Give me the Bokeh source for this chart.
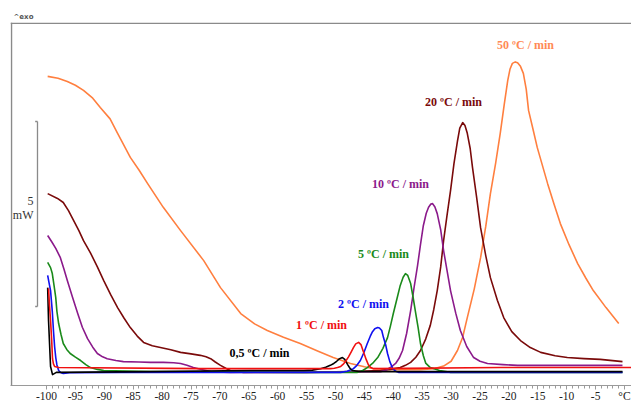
from bokeh.plotting import figure
from bokeh.models import FixedTicker, Span
from bokeh.core.properties import value
from bokeh.embed import file_html
from bokeh.resources import INLINE

# ---- data (temperature in °C, heat flow in mW, exo up) ----
t_50 = [-99.8, -98.0, -96.4, -95.0, -93.6, -92.0, -90.7, -89.0, -87.7, -85.5, -84.0, -82.5, -79.8, -76.8,
        -72.8, -69.9, -66.4, -64.0, -61.8, -59.0, -56.1, -53.0, -50.4, -47.4, -45.0, -43.4, -41.0, -38.8,
        -35.3, -33.0, -31.3, -30.0, -28.9, -28.0, -27.2, -26.0, -24.9, -24.0, -23.2, -22.3, -21.5, -20.8,
        -20.2, -19.8, -19.4, -18.9, -18.5, -18.0, -17.5, -17.0, -16.6, -15.8, -15.1, -13.3, -12.2, -11.1,
        -9.6, -8.1, -6.7, -5.4, -3.2, -1.0]
q_50 = [7.95, 7.90, 7.81, 7.71, 7.57, 7.36, 7.11, 6.80, 6.41, 5.76, 5.42, 5.05, 4.41, 3.78,
        2.97, 2.24, 1.54, 1.26, 1.08, 0.90, 0.73, 0.52, 0.35, 0.19, 0.10, 0.05, 0.03, 0.02,
        0.02, 0.05, 0.12, 0.25, 0.54, 0.90, 1.43, 2.20, 3.05, 3.90, 4.78, 5.60, 6.41, 7.20,
        7.84, 8.15, 8.30, 8.34, 8.32, 8.22, 8.03, 7.60, 7.03, 6.50, 6.03, 5.05, 4.50, 3.97,
        3.40, 2.89, 2.50, 2.16, 1.70, 1.27]

t_20 = [-99.8, -98.1, -97.1, -96.2, -95.3, -94.4, -93.6, -92.4, -91.2, -90.1, -88.9, -87.7, -86.6, -85.5,
        -84.3, -83.2, -81.7, -80.3, -78.5, -76.8, -75.0, -73.4, -72.4, -71.6, -70.8, -69.9, -69.0, -68.2,
        -67.0, -65.9, -55.0, -47.4, -42.2, -40.5, -38.8, -37.9, -37.0, -36.1, -35.3, -34.4, -33.6, -33.0,
        -32.4, -31.8, -31.3, -30.7, -30.1, -29.5, -28.9, -28.5, -28.0, -27.6, -27.2, -26.7, -26.3, -25.6,
        -24.9, -24.0, -23.2, -22.0, -20.9, -19.5, -18.0, -16.3, -14.5, -12.0, -9.9, -7.0, -4.2, -0.35]
q_20 = [4.78, 4.65, 4.54, 4.32, 4.05, 3.78, 3.51, 3.18, 2.80, 2.43, 2.05, 1.70, 1.42, 1.16,
        0.93, 0.76, 0.67, 0.62, 0.56, 0.49, 0.45, 0.41, 0.37, 0.32, 0.23, 0.14, 0.06, 0.0,
        -0.03, -0.05, -0.05, -0.03, 0.0, 0.03, 0.08, 0.14, 0.22, 0.36, 0.54, 0.85, 1.22, 1.65,
        2.16, 2.80, 3.51, 4.20, 4.86, 5.60, 6.20, 6.55, 6.70, 6.62, 6.41, 6.00, 5.49, 4.70,
        3.86, 3.10, 2.51, 1.90, 1.43, 1.05, 0.81, 0.62, 0.49, 0.40, 0.35, 0.32, 0.30, 0.24]

t_10 = [-99.8, -99.1, -98.4, -97.6, -97.0, -96.4, -95.5, -94.6, -93.8, -92.9, -92.0, -91.2, -90.3, -89.5,
        -88.0, -86.7, -84.0, -82.0, -79.8, -78.0, -76.8, -75.7, -74.6, -73.0, -71.6, -68.2, -55.0, -42.2,
        -41.4, -40.5, -39.6, -39.0, -38.4, -37.7, -37.0, -36.4, -35.8, -35.3, -34.8, -34.3, -33.9, -33.5,
        -33.2, -32.8, -32.4, -31.8, -31.3, -30.7, -30.1, -29.2, -28.4, -27.3, -26.1, -25.0, -23.7, -21.0,
        -18.5, -0.35]
q_10 = [3.65, 3.48, 3.30, 3.05, 2.75, 2.43, 1.98, 1.54, 1.17, 0.86, 0.63, 0.46, 0.37, 0.32,
        0.27, 0.24, 0.23, 0.22, 0.22, 0.21, 0.19, 0.14, 0.08, 0.02, -0.03, -0.05, -0.04, -0.03,
        0.0, 0.08, 0.19, 0.33, 0.54, 1.00, 1.62, 2.25, 2.84, 3.40, 3.92, 4.25, 4.41, 4.50,
        4.51, 4.42, 4.24, 3.80, 3.24, 2.70, 2.16, 1.55, 1.08, 0.65, 0.35, 0.25, 0.19, 0.16,
        0.14, 0.14]

t_5 = [-99.8, -99.3, -99.0, -98.7, -98.4, -98.2, -97.9, -97.5, -97.1, -96.5, -95.9, -95.0, -94.1, -93.2,
       -92.4, -91.2, -90.1, -82.0, -56.1, -46.2, -45.3, -44.5, -43.6, -42.7, -41.8, -41.0, -40.5, -40.0,
       -39.4, -38.8, -38.3, -37.9, -37.5, -37.0, -36.6, -36.2, -35.7, -35.3, -34.8, -34.4, -33.6, -32.0,
       -30.1, -0.35]
q_5 = [2.92, 2.78, 2.62, 2.30, 1.97, 1.60, 1.27, 0.98, 0.73, 0.57, 0.46, 0.36, 0.27, 0.16,
       0.08, 0.03, 0.0, -0.03, -0.05, -0.05, 0.0, 0.08, 0.19, 0.35, 0.60, 0.89, 1.20, 1.54,
       1.92, 2.30, 2.52, 2.62, 2.57, 2.35, 2.00, 1.62, 1.15, 0.73, 0.40, 0.20, 0.08, 0.0,
       -0.05, -0.05]

t_2 = [-99.8, -99.6, -99.3, -99.0, -98.8, -98.6, -98.4, -98.2, -97.9, -97.5, -97.1, -96.0, -87.2, -49.1,
       -48.0, -46.9, -46.3, -45.7, -45.1, -44.5, -44.0, -43.6, -43.2, -42.7, -42.4, -42.0, -41.7, -41.3,
       -41.0, -40.6, -40.1, -39.6, -39.1, -0.35]
q_2 = [2.57, 2.40, 2.16, 1.60, 1.08, 0.65, 0.35, 0.15, 0.0, -0.06, -0.08, -0.06, -0.05, -0.05,
       -0.02, 0.05, 0.14, 0.27, 0.48, 0.73, 0.92, 1.05, 1.13, 1.16, 1.15, 1.08, 0.89, 0.68,
       0.46, 0.24, 0.05, -0.02, -0.05, -0.05]

t_1 = [-99.65, -99.5, -99.3, -99.1, -98.96, -98.8, -98.6, -97.9, -73.4, -50.9, -50.2, -49.65, -49.1,
       -48.6, -48.2, -47.75, -47.3, -46.9, -46.5, -46.0, -45.6, -45.2, -44.7, -44.3, -43.9, -43.4, -21.5, 1.5]
q_1 = [2.22, 1.80, 1.35, 0.80, 0.32, 0.18, 0.11, 0.08, 0.05, 0.05, 0.06, 0.08, 0.11,
       0.18, 0.26, 0.37, 0.50, 0.62, 0.72, 0.76, 0.70, 0.52, 0.30, 0.15, 0.08, 0.05, 0.08, 0.08]

t_05 = [-99.8, -99.65, -99.3, -98.96, -98.3, -82.0, -64.7, -55.5, -54.0, -52.6, -51.7, -50.9, -50.3,
        -49.8, -49.3, -48.8, -48.4, -47.9, -47.5, -47.1, -45.7, -0.35]
q_05 = [2.24, 1.35, 0.11, -0.11, -0.05, -0.03, 0.0, 0.0, 0.01, 0.05, 0.09, 0.14, 0.19,
        0.25, 0.32, 0.35, 0.30, 0.16, 0.06, 0.0, -0.03, -0.03]

series_labels = ["50 ºC / min", "20 ºC / min", "10 ºC / min", "5 ºC / min",
                 "2 ºC / min", "1 ºC / min", "0,5 ºC / min"]
tick_values = list(range(-100, 1, 5))
tick_labels = {v: str(v) for v in tick_values}
tick_labels[0] = "°C"
scale_bar_mw = 5

# ---- styling / layout ----
colors = ["#FF7F3F", "#7A0A0A", "#8B1A8B", "#1A8A1A", "#1010F0", "#F01010", "#000000"]
label_colors = ["#FF8A55", "#7A0A0A", "#8B1A8B", "#1A8A1A", "#1010F0", "#F01010", "#000000"]
label_x = [-17.13, -29.58, -38.75, -41.70, -45.16, -52.42, -63.15]
label_y = [8.81, 7.27, 5.03, 3.16, 1.81, 1.24, 0.46]

x0, x1 = -106.23, 1.21
y0, y1 = -0.405, 9.405

p = figure(width=631, height=404, output_backend="svg", toolbar_location=None,
           x_range=(x0, x1), y_range=(y0, y1),
           min_border_left=10, min_border_right=0, min_border_top=22, min_border_bottom=17)
p.yaxis.visible = False
p.grid.visible = False
p.outline_line_color = None
p.background_fill_color = "white"
p.border_fill_color = "white"

p.title.text = "^exo"
p.title.text_font = "DejaVu Sans"
p.title.text_font_size = "7px"
p.title.text_color = "#555555"
p.title.align = "left"
p.title.offset = 3
p.title.standoff = 3

ax = p.xaxis[0]
ax.ticker = FixedTicker(ticks=tick_values, minor_ticks=list(range(-100, 1)))
ax.major_label_overrides = tick_labels
ax.major_label_text_font = "Liberation Serif"
ax.major_label_text_font_size = "11.5px"
ax.major_label_text_color = "#222222"
ax.major_label_standoff = 0
ax.axis_line_color = "#9a9a9a"
ax.major_tick_line_color = "#9a9a9a"
ax.minor_tick_line_color = "#9a9a9a"
ax.major_tick_in = 0
ax.major_tick_out = 4
ax.minor_tick_in = 0
ax.minor_tick_out = 3

# frame: left and top lines
p.add_layout(Span(location=x0 + 0.17, dimension="height", line_color="#8a8a8a", line_width=1.5))
p.add_layout(Span(location=y1 - 0.02, dimension="width", line_color="#8a8a8a", line_width=1.5))

# scale bar (5 mW)
bx = -101.56
base = 1.73
p.segment(x0=[bx, bx - 0.4, bx - 0.4], y0=[base, base, base + scale_bar_mw],
          x1=[bx, bx, bx], y1=[base + scale_bar_mw, base, base + scale_bar_mw],
          line_color="#8a8a8a", line_width=1.3)
p.text(x=[bx, bx], y=[4.59, 4.19], text=[str(scale_bar_mw), "mW"], x_offset=-4,
       text_align="right", text_baseline="middle", text_font=value("Liberation Serif"),
       text_font_size="12px", text_color="#333333")

series = [(t_50, q_50), (t_20, q_20), (t_10, q_10), (t_5, q_5), (t_2, q_2), (t_05, q_05), (t_1, q_1)]
col_order = [0, 1, 2, 3, 4, 6, 5]
for (t, q), ci in zip(series, col_order):
    p.line(t, q, line_color=colors[ci], line_width=1.6, line_join="round")

for i in range(len(series_labels)):
    p.text(x=[label_x[i]], y=[label_y[i]], text=[series_labels[i]], text_align="center",
           text_baseline="middle", text_font=value("Liberation Serif"), text_font_style="bold",
           text_font_size="12px", text_color=label_colors[i])

open("out.html", "w").write(file_html(p, INLINE))
